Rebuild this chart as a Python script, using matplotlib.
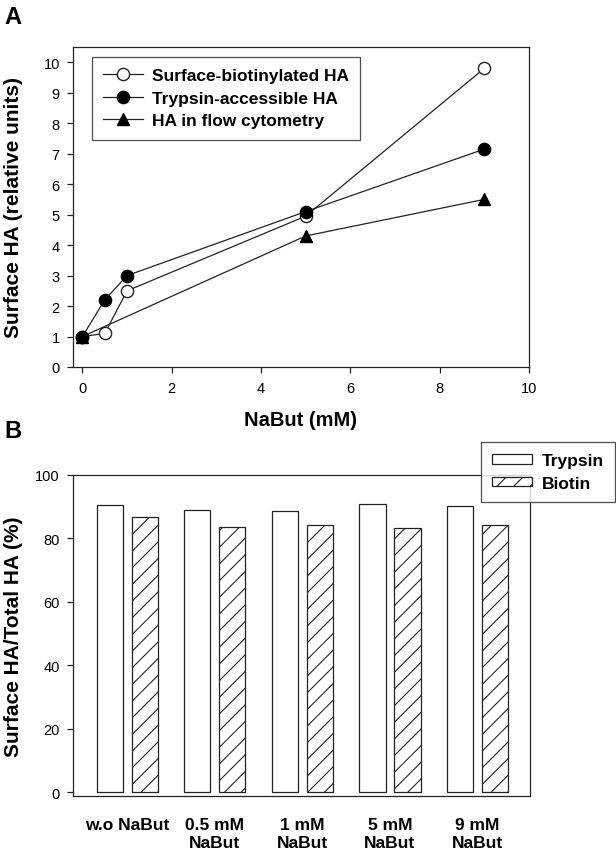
import matplotlib
matplotlib.use("Agg")
import matplotlib.pyplot as plt
import numpy as np

plt.rcParams['font.family'] = ['Liberation Sans', 'DejaVu Sans']
plt.rcParams['hatch.linewidth'] = 0.8

# ---- Panel A data ----
nabut_mm = [0, 0.5, 1, 5, 9]
biotinylated = [1.0, 1.1, 2.5, 4.95, 9.8]
trypsin_acc = [1.0, 2.2, 3.0, 5.1, 7.15]
flow_x = [0, 5, 9]
flow_cyt = [1.0, 4.3, 5.5]

# ---- Panel B data ----
categories = ["w.o NaBut", "0.5 mM\nNaBut", "1 mM\nNaBut", "5 mM\nNaBut", "9 mM\nNaBut"]
trypsin_pct = [90.5, 89.0, 88.8, 90.7, 90.2]
biotin_pct = [86.7, 83.5, 84.2, 83.4, 84.2]

W, H = 616, 853
fig = plt.figure(figsize=(W / 100, H / 100), dpi=100)

ec = '#222222'

def fx(px):
    return px / W

def fy(py):
    return 1 - py / H

# ---------- Panel A ----------
axA = fig.add_axes([fx(73), fy(368), fx(529) - fx(73), fy(48) - fy(368)])
axA.plot(nabut_mm, biotinylated, '-o', color=ec, lw=0.9, mfc='white', mec=ec,
         mew=1.0, ms=8.8, label='Surface-biotinylated HA', zorder=3)
axA.plot(nabut_mm, trypsin_acc, '-o', color=ec, lw=0.9, mfc='black', mec='black',
         ms=8.8, label='Trypsin-accessible HA', zorder=4)
axA.plot(flow_x, flow_cyt, '-^', color=ec, lw=0.9, mfc='black', mec='black',
         ms=8.8, label='HA in flow cytometry', zorder=2)
axA.set_xlim(-0.21, 10)
axA.set_ylim(0, 10.5)
axA.set_xticks([0, 2, 4, 6, 8, 10])
axA.set_yticks(range(0, 11))
axA.tick_params(direction='out', length=4, width=0.9, labelsize=10.5, color=ec)
axA.tick_params(axis='x', pad=6)
axA.tick_params(axis='y', pad=5.5)
for s in axA.spines.values():
    s.set_color(ec)
    s.set_linewidth(0.9)
axA.set_ylabel('Surface HA (relative units)', fontsize=15, fontweight='bold')
axA.yaxis.set_label_coords(-0.11, 0.5)
axA.set_xlabel('NaBut (mM)', fontsize=14.5, fontweight='bold')
axA.xaxis.set_label_coords(0.5, -0.133)
legA = axA.legend(loc='upper left', bbox_to_anchor=(0.042, 0.969), borderaxespad=0,
                  frameon=True, fancybox=False, handlelength=2.3,
                  prop={'weight': 'bold', 'size': 12.5}, labelspacing=0.42,
                  borderpad=0.65, handletextpad=0.5)
legA.get_frame().set_edgecolor(ec)
legA.get_frame().set_linewidth(0.9)

fig.text(fx(4), fy(17), 'A', fontsize=17, fontweight='bold', va='center', ha='left')

# ---------- Panel B ----------
axB = fig.add_axes([fx(73), fy(797), fx(530) - fx(73), fy(476) - fy(797)])
x = np.arange(len(categories))
bw = 0.30
axB.bar(x - 0.2, trypsin_pct, bw, color='white', edgecolor=ec, lw=0.9, label='Trypsin')
axB.bar(x + 0.2, biotin_pct, bw, color='white', edgecolor=ec, lw=0.9, hatch='//',
        label='Biotin')
axB.set_xlim(-0.62, 4.6)
axB.set_ylim(-1.2, 100)
axB.set_yticks([0, 20, 40, 60, 80, 100])
axB.set_xticks(x)
axB.set_xticklabels(categories, fontsize=12.5, fontweight='bold', linespacing=1.25)
axB.tick_params(axis='x', length=0, pad=15)
axB.tick_params(axis='y', direction='out', length=4, width=0.9, labelsize=10.5,
                color=ec, pad=5.5)
for s in axB.spines.values():
    s.set_color(ec)
    s.set_linewidth(0.9)
axB.set_ylabel('Surface HA/Total HA (%)', fontsize=15, fontweight='bold')
axB.yaxis.set_label_coords(-0.11, 0.5)
legB = axB.legend(loc='upper left', bbox_to_anchor=(fx(481), fy(443)),
                  bbox_transform=fig.transFigure, borderaxespad=0, frameon=True,
                  fancybox=False, handlelength=2.3, handleheight=0.45,
                  prop={'weight': 'bold', 'size': 12.5}, labelspacing=0.42,
                  borderpad=0.65, handletextpad=0.55)
legB.get_frame().set_edgecolor(ec)
legB.get_frame().set_linewidth(0.9)
legB.set_zorder(5)

fig.text(fx(4), fy(432), 'B', fontsize=17, fontweight='bold', va='center', ha='left')

fig.savefig('out.png', dpi=100, facecolor='white')
